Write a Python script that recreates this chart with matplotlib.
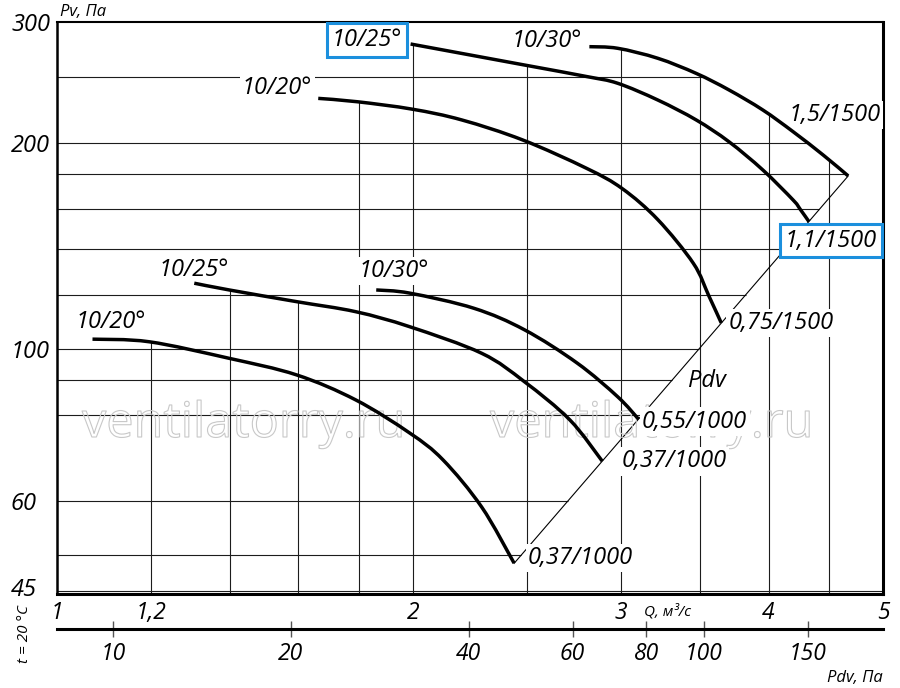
import numpy as np
import matplotlib
matplotlib.use("Agg")
import matplotlib.pyplot as plt
from matplotlib import patheffects
from matplotlib.path import Path
from matplotlib.patches import PathPatch
from matplotlib.ticker import FixedLocator, NullLocator, FixedFormatter

plt.rcParams['font.family'] = ['Open Sans', 'DejaVu Sans']

# ---------------- data ----------------
# 1500 rpm curves
up20_q = [1.663, 1.794, 1.998, 2.201, 2.477, 2.806, 3.008, 3.224, 3.455, 3.560, 3.648]
up20_p = [232.3, 229.7, 224.0, 216.0, 202.0, 183.6, 171.5, 154.5, 133.4, 119.7, 109.2]
up25_q = [1.991, 2.485, 2.806, 2.981, 3.224, 3.475, 3.703, 3.956, 4.196, 4.255, 4.328]
up25_p = [278.9, 259.9, 250.0, 244.4, 231.0, 216.0, 200.8, 182.6, 165.1, 160.0, 153.5]
up30_q = [2.821, 2.981, 3.224, 3.475, 3.703, 3.956, 4.196, 4.450, 4.672]
up30_p = [276.4, 274.9, 265.8, 252.6, 239.0, 223.4, 207.7, 192.0, 179.0]
# 1000 rpm curves
lo20_q = [1.071, 1.196, 1.396, 1.594, 1.789, 1.988, 2.121, 2.287, 2.436]
lo20_p = [103.4, 102.5, 97.0, 91.7, 84.3, 75.4, 68.9, 58.8, 48.7]
lo25_q = [1.306, 1.398, 1.594, 1.789, 1.988, 2.287, 2.486, 2.716, 2.893]
lo25_p = [124.8, 122.0, 117.3, 113.4, 107.8, 98.6, 89.6, 78.8, 68.6]
lo30_q = [1.862, 1.988, 2.253, 2.486, 2.755, 2.981, 3.105]
lo30_p = [122.0, 120.7, 114.7, 106.7, 95.4, 85.2, 79.0]

angle_labels = ["10/20°", "10/25°", "10/30°"]
motor_labels_1500 = ["0,75/1500", "1,1/1500", "1,5/1500"]
motor_labels_1000 = ["0,37/1000", "0,37/1000", "0,55/1000"]

x_ticks = [1, 1.2, 2, 3, 4, 5]
x_tick_labels = ["1", "1,2", "2", "3", "4", "5"]
y_ticks = [45, 60, 100, 200, 300]
y_tick_labels = ["45", "60", "100", "200", "300"]
x_grid = [1.2, 1.4, 1.6, 1.8, 2.0, 2.5, 3.0, 3.5, 4.0, 4.5]
y_grid = [250, 200, 180, 160, 140, 120, 100, 90, 80, 60, 50]
pdv_ticks = [10, 20, 40, 60, 80, 100, 150]
pdv_tick_labels = ["10", "20", "40", "60", "80", "100", "150"]
K_LINE = 8.2     # Pdv = K * Q^2 (line through curve ends)
K_AXIS = 8.05    # Pdv scale under the chart
Q_MIN, Q_MAX = 1.0, 5.0
P_MIN, P_MAX = 43.9, 300.0

# ---------------- figure ----------------
W, H = 900, 688
fig = plt.figure(figsize=(W / 100, H / 100), dpi=100)
L, R, T, B = 57.3, 883.0, 22.3, 594.0
ax = fig.add_axes([L / W, 1 - B / H, (R - L) / W, (B - T) / H])
ax.set_xscale('log')
ax.set_yscale('log')
ax.set_xlim(Q_MIN, Q_MAX)
ax.set_ylim(P_MIN, P_MAX)

curves = [(up20_q, up20_p), (up25_q, up25_p), (up30_q, up30_p),
          (lo20_q, lo20_p), (lo25_q, lo25_p), (lo30_q, lo30_p)]

def top_at(q):
    vals = []
    for cq, cp in curves:
        if cq[0] <= q <= cq[-1]:
            vals.append(np.exp(np.interp(np.log(q), np.log(cq), np.log(cp))))
    return max(vals) if vals else P_MAX

def right_at(v):
    if v >= up30_p[-1]:
        return float(np.exp(np.interp(np.log(v), np.log(up30_p[::-1]), np.log(up30_q[::-1]))))
    return float(np.sqrt(v / K_LINE))

gcol = '#1c1c1c'
for q in x_grid:
    ax.vlines(q, P_MIN, top_at(q), colors=gcol, lw=0.8, zorder=1)
for v in y_grid:
    ax.hlines(v, Q_MIN, right_at(v), colors=gcol, lw=0.8, zorder=1)
# thin line just above bottom frame
ax.plot([0, 1], [0.006, 0.006], transform=ax.transAxes, color=gcol, lw=0.8, zorder=1)

# Pdv line
q_line = np.array([lo20_q[-1], up30_q[-1]])
ax.plot(q_line, K_LINE * q_line ** 2, color='black', lw=0.8, zorder=2)

# curves: smooth Bezier path through the read points (Catmull-Rom in log space)
def smooth_path(qs, ps):
    P = np.column_stack([np.log(qs), np.log(ps)])
    n = len(P)
    ext = np.vstack([P[0], P, P[-1]])
    verts = [P[0]]
    codes = [Path.MOVETO]
    for i in range(n - 1):
        p0, p1, p2, p3 = ext[i], ext[i + 1], ext[i + 2], ext[i + 3]
        c1 = p1 + (p2 - p0) / 6.0
        c2 = p2 - (p3 - p1) / 6.0
        verts += [c1, c2, p2]
        codes += [Path.CURVE4] * 3
    return Path(np.exp(np.array(verts)), codes)

for cq, cp in curves:
    ax.add_patch(PathPatch(smooth_path(cq, cp), fill=False, edgecolor='black',
                           lw=2.5, capstyle='butt', joinstyle='round', zorder=6))

# watermark (outline only, under the labels)
for xw in (82, 490):
    ax.text(xw / W, 1 - 437 / H, "ventilatorry.ru", fontsize=35,
            transform=fig.transFigure, color=(1, 1, 1, 0), ha='left',
            va='baseline', zorder=3,
            path_effects=[patheffects.Stroke(linewidth=0.8, foreground='#c8c8c8')])

# labels
blue = '#1b8fdd'
white_box = dict(boxstyle='square,pad=0.1', fc='white', ec='none')
blue_box = dict(boxstyle='square,pad=0.2', fc='white', ec=blue, lw=2.2)
lab_fs = 17

def lab(text, q, p, dx, dy, ha='center', box=white_box):
    ax.annotate(text, xy=(q, p), xytext=(dx * 0.72, dy * 0.72),
                textcoords='offset points', ha=ha, va='center',
                fontsize=lab_fs, style='italic', bbox=box, zorder=5)

lab(angle_labels[0], up20_q[0], up20_p[0], -6, 10, ha='right')
lab(angle_labels[1], up25_q[0], up25_p[0], -44, 4, box=blue_box)
lab(angle_labels[2], up30_q[0], up30_p[0], -7, 5.5, ha='right')
lab(motor_labels_1500[2], up30_q[-1], up30_p[-1], -14, 61)
lab(motor_labels_1500[1], up25_q[-1], up25_p[-1], 22, -19, box=blue_box)
lab(motor_labels_1500[0], up20_q[-1], up20_p[-1], 7, 0, ha='left')

lab(angle_labels[0], lo20_q[0], lo20_p[0], 18.5, 17)
lab(angle_labels[1], lo25_q[0], lo25_p[0], -1, 13)
lab(angle_labels[2], lo30_q[0], lo30_p[0], 18, 19)
lab(motor_labels_1000[2], lo30_q[-1], lo30_p[-1], 3.5, -2.5, ha='left')
lab(motor_labels_1000[1], lo25_q[-1], lo25_p[-1], 19, 0, ha='left')
lab(motor_labels_1000[0], lo20_q[-1], lo20_p[-1], 14, 5, ha='left')

ax.text(3.549, 89.8, "Pdv", fontsize=lab_fs, style='italic', ha='center',
        va='center', zorder=5)

# axes styling
for side, lw in (('left', 1.8), ('top', 1.5), ('right', 2.2), ('bottom', 2.2)):
    ax.spines[side].set_linewidth(lw)
ax.xaxis.set_major_locator(FixedLocator(x_ticks))
ax.xaxis.set_major_formatter(FixedFormatter(x_tick_labels))
ax.xaxis.set_minor_locator(NullLocator())
ax.yaxis.set_major_locator(FixedLocator(y_ticks))
ax.yaxis.set_major_formatter(FixedFormatter(y_tick_labels))
ax.yaxis.set_minor_locator(NullLocator())
ax.tick_params(axis='x', length=0, pad=5, labelsize=16.5)
ax.tick_params(axis='y', length=0, pad=(L - 11) * 0.72, labelsize=17)
for t in ax.get_xticklabels():
    t.set_style('italic')
for t in ax.get_yticklabels():
    t.set_style('italic')
    t.set_horizontalalignment('left')

# Pdv scale
sec = ax.secondary_xaxis(-(629 - B) / (B - T),
                         functions=(lambda q: K_AXIS * np.abs(q) ** 2,
                                    lambda p: np.sqrt(np.abs(p) / K_AXIS)))
sec.spines['bottom'].set_linewidth(2.2)
sec.xaxis.set_major_locator(FixedLocator(pdv_ticks))
sec.xaxis.set_major_formatter(FixedFormatter(pdv_tick_labels))
sec.xaxis.set_minor_locator(NullLocator())
sec.tick_params(axis='x', direction='inout', length=12, width=1.0,
                color='#555555', pad=3, labelsize=16.5)
for t in sec.get_xticklabels():
    t.set_style('italic')

# other texts
fig.text(60 / W, 1 - 12 / H, "Pv, Па", fontsize=12, style='italic', ha='left', va='center')
fig.text(667 / W, 1 - 612 / H, "Q, м³/с", fontsize=11, style='italic', ha='center', va='center')
fig.text(855 / W, 1 - 678 / H, "Pdv, Па", fontsize=12, style='italic', ha='center', va='center')
fig.text(24 / W, 1 - 634 / H, "t = 20 °C", fontsize=11, style='italic', rotation=90,
         ha='center', va='center')

fig.savefig("out.png", dpi=100)
